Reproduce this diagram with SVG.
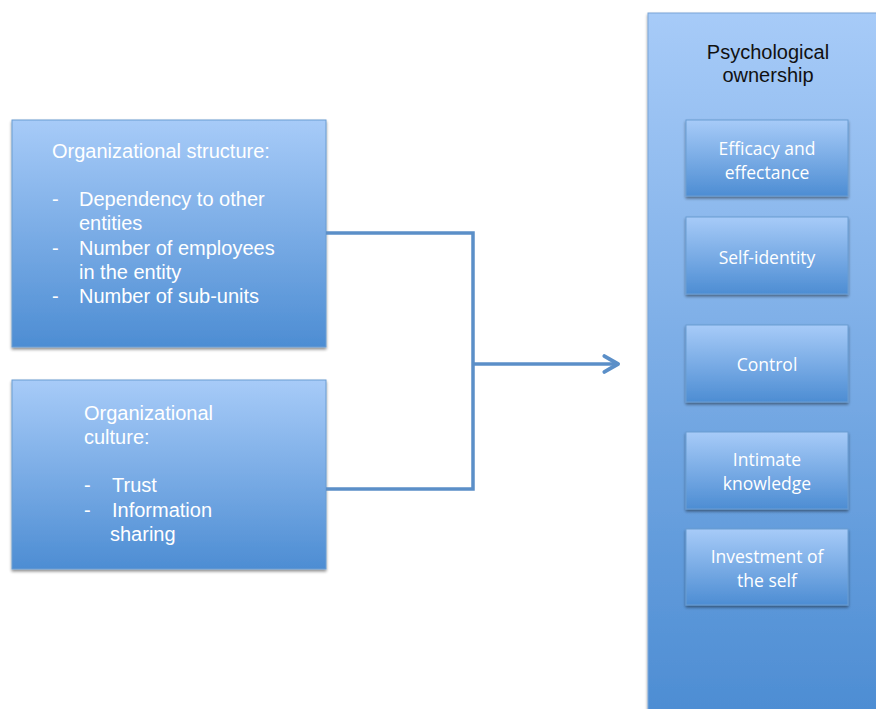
<svg xmlns="http://www.w3.org/2000/svg" width="876" height="709" viewBox="0 0 876 709">
<defs>
<linearGradient id="g" x1="0" y1="0" x2="0" y2="1">
<stop offset="0" stop-color="#a7cbf8"/>
<stop offset="1" stop-color="#4d8dd3"/>
</linearGradient>
<filter id="sh" x="-10%" y="-10%" width="130%" height="130%">
<feGaussianBlur in="SourceAlpha" stdDeviation="1.5"/>
<feOffset dx="0" dy="2" result="b"/>
<feComponentTransfer><feFuncA type="linear" slope="0.45"/></feComponentTransfer>
<feMerge><feMergeNode/><feMergeNode in="SourceGraphic"/></feMerge>
</filter>
<marker id="arr" viewBox="0 0 10 10" refX="7.5" refY="5" markerWidth="6" markerHeight="6" orient="auto" markerUnits="strokeWidth">
<path d="M1.5,1.2 L8,5 L1.5,8.8" fill="none" stroke="#5b8fc8" stroke-width="1.8" stroke-linejoin="round" stroke-linecap="round"/>
</marker>
</defs>
<style>
.box{fill:url(#g);stroke:#6b9dd2;stroke-width:1;filter:url(#sh)}
.t{font-family:"Liberation Sans",Arial,sans-serif;font-size:20px;fill:#ffffff}
.h{font-family:"Liberation Sans",Arial,sans-serif;font-size:20px;fill:#111111;text-anchor:middle}
.c{font-family:"Open Sans","Noto Sans",sans-serif;font-size:17.5px;fill:#ffffff;text-anchor:middle}
.ln{fill:none;stroke:#5b8fc8;stroke-width:3.5}
</style>
<rect width="876" height="709" fill="#ffffff"/>
<g id="panel">
<rect x="648" y="13" width="232" height="700" fill="url(#g)" stroke="#7aa6d8" stroke-width="1" filter="url(#sh)"/>
<text class="h" x="768" y="59">Psychological</text>
<text class="h" x="768" y="82">ownership</text>
</g>
<g id="structure">
<rect class="box" x="12" y="120" width="314" height="227"/>
<text class="t" x="52" y="158">Organizational structure:</text>
<text class="t" x="52" y="206">-</text><text class="t" x="79" y="206">Dependency to other</text>
<text class="t" x="79" y="230">entities</text>
<text class="t" x="52" y="255">-</text><text class="t" x="79" y="255">Number of employees</text>
<text class="t" x="79" y="279">in the entity</text>
<text class="t" x="52" y="303">-</text><text class="t" x="79" y="303">Number of sub-units</text>
</g>
<g id="culture">
<rect class="box" x="12" y="380" width="314" height="189"/>
<text class="t" x="84" y="420">Organizational</text>
<text class="t" x="84" y="444">culture:</text>
<text class="t" x="84" y="492">-</text><text class="t" x="112" y="492">Trust</text>
<text class="t" x="84" y="517">-</text><text class="t" x="112" y="517">Information</text>
<text class="t" x="110" y="541">sharing</text>
</g>
<g id="efficacy">
<rect class="box" x="686" y="120" width="162" height="76"/>
<text class="c" x="767" y="155">Efficacy and</text>
<text class="c" x="767" y="179">effectance</text>
</g>
<g id="selfidentity">
<rect class="box" x="686" y="217" width="162" height="77"/>
<text class="c" x="767" y="264">Self-identity</text>
</g>
<g id="control">
<rect class="box" x="686" y="325" width="162" height="77"/>
<text class="c" x="767" y="371">Control</text>
</g>
<g id="intimate">
<rect class="box" x="686" y="432" width="162" height="77"/>
<text class="c" x="767" y="466">Intimate</text>
<text class="c" x="767" y="490">knowledge</text>
</g>
<g id="investment">
<rect class="box" x="686" y="529" width="162" height="76"/>
<text class="c" x="767" y="563">Investment of</text>
<text class="c" x="767" y="587">the self</text>
</g>
<g id="connectors">
<polyline class="ln" points="326,233 473,233 473,489 326,489"/>
<line class="ln" x1="473" y1="364" x2="617" y2="364" marker-end="url(#arr)"/>
</g>
</svg>
